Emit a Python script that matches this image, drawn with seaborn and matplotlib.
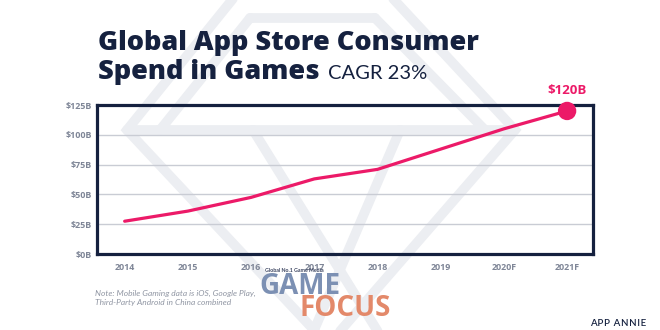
import matplotlib
matplotlib.use("Agg")
import matplotlib.pyplot as plt
import seaborn as sns
import pandas as pd
from matplotlib.lines import Line2D

# ---- data -------------------------------------------------------------
years = ["2014", "2015", "2016", "2017", "2018", "2019", "2020F", "2021F"]
spend_bn = [27.5, 36, 47.5, 63, 71, 88, 105, 120]
y_ticks = [0, 25, 50, 75, 100, 125]
y_tick_labels = ["$0B", "$25B", "$50B", "$75B", "$100B", "$125B"]
end_label = "$120B"

title_line1 = "Global App Store Consumer"
title_line2 = "Spend in Games"
title_suffix = "CAGR 23%"
note_lines = ["Note: Mobile Gaming data is iOS, Google Play,",
              "Third-Party Android in China combined"]
source = "APP ANNIE"

# ---- style ------------------------------------------------------------
NAVY = "#15213f"
PINK = "#ec1a68"
TICK_GRAY = "#7f8697"
GRID_GRAY = "#c9ccd4"
WATERMARK = "#eceef2"
HEAD_FONT = ["Open Sans", "DejaVu Sans"]

sns.set_theme(style="white")
plt.rcParams["font.family"] = ["Lato", "DejaVu Sans"]

W, H = 660, 330
fig = plt.figure(figsize=(W / 100, H / 100), dpi=100)
fig.patch.set_facecolor("white")


def fig_xy(x, y):
    return x / W, 1 - y / H


# faint gem outline behind the chart
gem_strokes = [
    [(240, -10), (127, 130), (328, 345), (515, 130), (385, -10)],
    [(127, 130), (515, 130)],
    [(250, 18), (375, 18)],
    [(250, 18), (160, 130)],
    [(375, 18), (485, 130)],
    [(253, 130), (380, 335)],
    [(400, 130), (312, 335)],
]
for stroke in gem_strokes:
    xs = [fig_xy(*p)[0] for p in stroke]
    ys = [fig_xy(*p)[1] for p in stroke]
    fig.add_artist(Line2D(xs, ys, transform=fig.transFigure, color=WATERMARK,
                          lw=7, solid_joinstyle="miter", zorder=-1))

# ---- chart ------------------------------------------------------------
ax = fig.add_axes([0.1477, 0.2303, 0.7508, 0.4515])
ax.set_facecolor("none")

df = pd.DataFrame({"year": years, "spend": spend_bn})
df["pos"] = range(len(df))

ax.yaxis.grid(True, color=GRID_GRAY, lw=1.0, zorder=0)
ax.xaxis.grid(False)
ax.set_axisbelow(True)

sns.lineplot(data=df, x="pos", y="spend", color=PINK, lw=2.3, ax=ax,
             zorder=3, legend=False)
last = df.tail(1)
sns.scatterplot(data=last, x="pos", y="spend", color=PINK, s=175,
                edgecolor="none", ax=ax, zorder=5, clip_on=False, legend=False)
ax.annotate(end_label, (last["pos"].iloc[0], last["spend"].iloc[0]),
            xytext=(0, 15), textcoords="offset points", ha="center",
            va="center", color=PINK, fontsize=9.5, fontweight="bold",
            family=HEAD_FONT, annotation_clip=False)

ax.set_xlim(-0.43, len(years) - 1 + 0.41)
ax.set_ylim(0, 125)
ax.set_xticks(df["pos"], years)
ax.set_yticks(y_ticks, y_tick_labels)
ax.set_xlabel("")
ax.set_ylabel("")
ax.tick_params(axis="both", length=0, labelsize=6.4, labelcolor=TICK_GRAY)
ax.tick_params(axis="x", pad=6.5)
ax.tick_params(axis="y", pad=4)
for lbl in ax.get_xticklabels() + ax.get_yticklabels():
    lbl.set_fontweight("bold")
    lbl.set_family(HEAD_FONT)

for side in ["left", "right", "top", "bottom"]:
    ax.spines[side].set_visible(True)
    ax.spines[side].set_color(NAVY)
    ax.spines[side].set_linewidth(2.3)
    ax.spines[side].set_zorder(4)

# ---- titles and footer ------------------------------------------------
x0, y1 = fig_xy(98, 50)
fig.text(x0, y1, title_line1, fontsize=19.5, fontweight=800, color=NAVY,
         va="baseline", ha="left", family=HEAD_FONT)
_, y2 = fig_xy(98, 79)
t2 = fig.text(x0, y2, title_line2, fontsize=19.5, fontweight=800,
              color=NAVY, va="baseline", ha="left", family=HEAD_FONT)
fig.canvas.draw()
bb = t2.get_window_extent()
fig.text(bb.x1 / W + 8 / W, y2, title_suffix, fontsize=14.5,
         fontweight="normal", color=NAVY, va="baseline", ha="left",
         family=["Lato", "DejaVu Sans"])

for i, line in enumerate(note_lines):
    nx, ny = fig_xy(95, 293 + 9.5 * i)
    fig.text(nx, ny, line, fontsize=6.0, style="italic", color="#9096a3",
             va="center", ha="left")

sx, sy = fig_xy(646, 323)
fig.text(sx, sy, "\u200a".join(source), fontsize=7, fontweight="semibold",
         color=NAVY, va="center", ha="right",
         family=["Lato", "DejaVu Sans"])

# media logo overlay
lx, ly = fig_xy(265, 271)
fig.text(lx, ly, "Global No.1 Game Media", fontsize=3.8, fontweight="bold",
         color="#3b4460", va="center", ha="left")
gx, gy = fig_xy(259, 294)
fig.text(gx, gy, "GAME", fontsize=20, fontweight="bold", color="#7c90b3",
         va="baseline", ha="left", family=HEAD_FONT)
fx, fy = fig_xy(300, 316)
fig.text(fx, fy, "FOCUS", fontsize=20, fontweight="bold", color="#e3896a",
         va="baseline", ha="left", family=HEAD_FONT)

fig.savefig("out.png", dpi=100, facecolor="white")
